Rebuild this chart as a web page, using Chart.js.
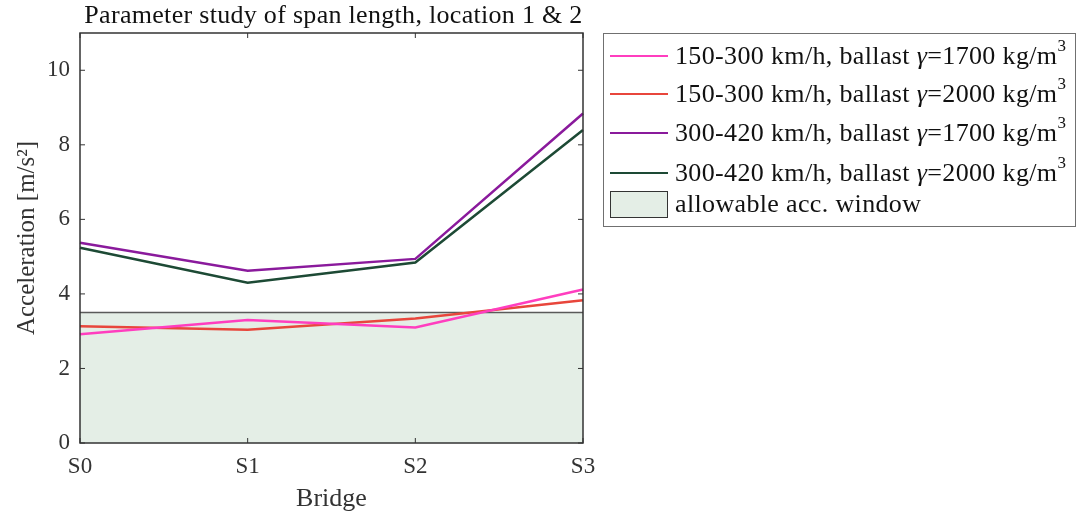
<!DOCTYPE html>
<html>
<head>
<meta charset="utf-8">
<script src="https://cdn.jsdelivr.net/npm/chart.js@4"></script>
<style>
  body { margin: 0; background: #fff; }
  #wrap { position: relative; width: 1078px; height: 517px; }
  #legend {
    position: absolute; left: 603px; top: 33px; width: 473px; height: 194px;
    border: 1px solid #707070; box-sizing: border-box;
    font-family: "Liberation Serif", "DejaVu Serif", serif; font-size: 26px; color: #111;
    letter-spacing: 0.35px;
  }
  .row { position: absolute; left: 6px; height: 30px; display: flex; align-items: center; white-space: nowrap; }
  .swatch { width: 58px; margin-right: 7px; flex: none; }
  .line { height: 0; border-top: 2.5px solid; }
  .patch { height: 27px; box-sizing: border-box; border: 1.5px solid #333; }
  sup { font-size: 17px; position: relative; top: -3px; vertical-align: super; line-height: 0; }
  i { font-style: italic; }
</style>
</head>
<body>
<div id="wrap">
  <canvas id="chart" width="1078" height="517"></canvas>
  <div id="legend"></div>
</div>
<script>
var bridges = ["S0", "S1", "S2", "S3"];

var seriesNames = [
  "150-300 km/h, ballast γ=1700 kg/m3",
  "150-300 km/h, ballast γ=2000 kg/m3",
  "300-420 km/h, ballast γ=1700 kg/m3",
  "300-420 km/h, ballast γ=2000 kg/m3"
];
var seriesColors = ["#ff3ebf", "#e8463c", "#8a1a9c", "#1d4a35"];

var low1700 = [2.92, 3.30, 3.10, 4.12];
var low2000 = [3.13, 3.04, 3.34, 3.83];
var high1700 = [5.37, 4.62, 4.94, 8.84];
var high2000 = [5.24, 4.30, 4.84, 8.40];
var seriesValues = [low1700, low2000, high1700, high2000];

var windowName = "allowable acc. window";
var windowLimit = [3.5, 3.5, 3.5, 3.5];

var yTicks = [0, 2, 4, 6, 8, 10];

var serif = "'Liberation Serif', 'DejaVu Serif', serif";

var datasets = [];
seriesValues.forEach(function (vals, i) {
  datasets.push({
    label: seriesNames[i],
    data: vals,
    borderColor: seriesColors[i],
    backgroundColor: seriesColors[i],
    borderWidth: 2.5,
    pointRadius: 0,
    tension: 0,
    fill: false,
    order: 1
  });
});
datasets.push({
  label: windowName,
  data: windowLimit,
  borderColor: "#5a5a5a",
  backgroundColor: "#e4eee6",
  borderWidth: 1.5,
  pointRadius: 0,
  fill: "origin",
  order: 10
});

// box around the plot with inward ticks, like matlab
var framePlugin = {
  id: "frame",
  afterDatasetsDraw: function (chart) {
    var ctx = chart.ctx, a = chart.chartArea;
    var xs = chart.scales.x, ys = chart.scales.y;
    ctx.save();
    ctx.strokeStyle = "#333";
    ctx.lineWidth = 1.5;
    ctx.strokeRect(a.left, a.top, a.right - a.left, a.bottom - a.top);
    ctx.lineWidth = 1;
    bridges.forEach(function (b, i) {
      var x = xs.getPixelForValue(i);
      ctx.beginPath();
      ctx.moveTo(x, a.bottom); ctx.lineTo(x, a.bottom - 5);
      ctx.moveTo(x, a.top); ctx.lineTo(x, a.top + 5);
      ctx.stroke();
    });
    yTicks.forEach(function (v) {
      var y = ys.getPixelForValue(v);
      ctx.beginPath();
      ctx.moveTo(a.left, y); ctx.lineTo(a.left + 5, y);
      ctx.moveTo(a.right, y); ctx.lineTo(a.right - 5, y);
      ctx.stroke();
    });
    ctx.restore();
  },
  afterDraw: function (chart) {
    var ctx = chart.ctx, a = chart.chartArea;
    ctx.save();
    ctx.font = "26px " + serif;
    ctx.letterSpacing = "0.3px";
    ctx.fillStyle = "#111";
    ctx.textAlign = "center";
    ctx.textBaseline = "middle";
    ctx.fillText("Parameter study of span length, location 1 & 2", (a.left + a.right) / 2 + 2, 16);
    ctx.restore();
  }
};

new Chart(document.getElementById("chart"), {
  type: "line",
  data: { labels: bridges, datasets: datasets },
  plugins: [framePlugin],
  options: {
    responsive: false,
    animation: false,
    layout: { padding: { top: 33, right: 495, left: 0, bottom: 0 } },
    plugins: {
      legend: { display: false },
      title: { display: false },
      tooltip: { enabled: false }
    },
    scales: {
      x: {
        offset: false,
        grid: { display: false },
        border: { display: false },
        ticks: { color: "#333", font: { family: serif, size: 23 }, maxRotation: 0, padding: 2 },
        title: { display: true, text: "Bridge", color: "#333", font: { family: serif, size: 26 }, padding: { top: 0, bottom: 2 } },
        afterFit: function (s) { s.height = 74; }
      },
      y: {
        min: 0,
        max: 11,
        grid: { display: false },
        border: { display: false },
        afterBuildTicks: function (s) { s.ticks = yTicks.map(function (v) { return { value: v }; }); },
        ticks: { color: "#333", font: { family: serif, size: 23 }, padding: 2 },
        title: { display: true, text: "Acceleration [m/s²]", color: "#333", font: { family: serif, size: 25 }, padding: { top: 12, bottom: 0 } },
        afterFit: function (s) { s.width = 80; }
      }
    }
  }
});

// legend built from the same arrays
var legend = document.getElementById("legend");
var rowsY = [7, 45, 84, 124, 155];
function fmt(name) {
  return name.replace("γ", "<i>γ</i>").replace("m3", "m<sup>3</sup>");
}
seriesNames.forEach(function (name, i) {
  var row = document.createElement("div");
  row.className = "row";
  row.style.top = rowsY[i] + "px";
  row.innerHTML = '<div class="swatch line" style="border-color:' + seriesColors[i] + '"></div><span>' + fmt(name) + "</span>";
  legend.appendChild(row);
});
var wrow = document.createElement("div");
wrow.className = "row";
wrow.style.top = rowsY[4] + "px";
wrow.innerHTML = '<div class="swatch patch" style="background:#e4eee6"></div><span>' + windowName + "</span>";
legend.appendChild(wrow);
</script>
</body>
</html>
